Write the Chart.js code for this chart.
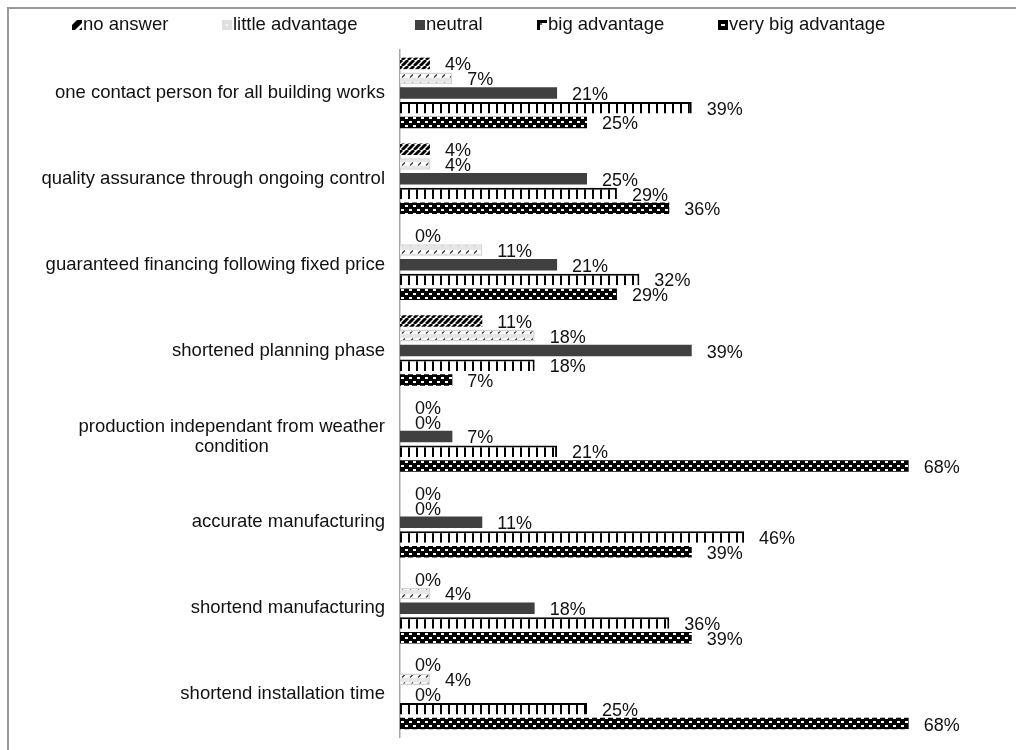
<!DOCTYPE html>
<html>
<head>
<meta charset="utf-8">
<title>Advantages of prefabrication</title>
<script src="https://cdn.jsdelivr.net/npm/chart.js@4.4.1/dist/chart.umd.min.js"></script>
<style>
  html, body { margin: 0; padding: 0; background: #fff; overflow: hidden; }
  #wrap { position: relative; width: 1016px; height: 750px; }
  #frame { position: absolute; left: 7px; top: 7px; width: 1100px; height: 800px; border: 2px solid #999; box-sizing: border-box; }
  #chart { position: absolute; left: 0; top: 0; }
</style>
</head>
<body>
<div id="wrap">
  <div id="frame"></div>
  <canvas id="chart" width="1016" height="750"></canvas>
</div>
<script>
// Survey: rated advantages, share of answers in percent

const categories = [
  'one contact person for all building works',
  'quality assurance through ongoing control',
  'guaranteed financing following fixed price',
  'shortened planning phase',
  ['production independant from weather', 'condition'],
  'accurate manufacturing',
  'shortend manufacturing',
  'shortend installation time',
];

const seriesNames = ['no answer', 'little advantage', 'neutral', 'big advantage', 'very big advantage'];

const noAnswer = [4, 4, 0, 11, 0, 0, 0, 0];
const littleAdvantage = [7, 4, 11, 18, 0, 0, 4, 4];
const neutral = [21, 25, 21, 39, 7, 11, 18, 0];
const bigAdvantage = [39, 29, 32, 18, 21, 46, 36, 25];
const veryBigAdvantage = [25, 36, 29, 7, 68, 39, 39, 68];

const FONT = '"Liberation Sans", Arial, sans-serif';
const TEXT_COLOR = '#111';
const LEGEND_X = [72, 222, 415, 537, 718];

Chart.defaults.font.family = FONT;

/**
 * Builds a repeating fill pattern from a small tile.
 * @param {number} w
 * @param {number} h
 * @param {function} paint
 */
function makePattern(w, h, paint) {
  const tile = document.createElement('canvas');
  tile.width = w;
  tile.height = h;
  const t = tile.getContext('2d');
  paint(t, w, h);
  return t.createPattern(tile, 'repeat');
}

const wideDiagonal = makePattern(6, 6, (t, w, h) => {
  t.fillStyle = '#fff';
  t.fillRect(0, 0, w, h);
  t.strokeStyle = '#000';
  t.lineWidth = 2.8;
  for (const k of [-6, 0, 6]) {
    t.beginPath();
    t.moveTo(k, h);
    t.lineTo(k + w, 0);
    t.stroke();
  }
});

const dashedDiagonal = makePattern(8, 8, (t, w, h) => {
  t.fillStyle = '#e6e6e6';
  t.fillRect(0, 0, w, h);
  t.fillStyle = '#fff';
  t.fillRect(0, 2, w, 4);
  t.strokeStyle = '#333';
  t.lineWidth = 1.3;
  t.beginPath();
  t.moveTo(2, 5.5);
  t.lineTo(5, 2.5);
  t.stroke();
});

const verticalTicks = makePattern(8, 8, (t, w, h) => {
  t.fillStyle = '#fff';
  t.fillRect(0, 0, w, h);
  t.fillStyle = '#000';
  t.fillRect(0, 0, 2, h);
});

const dottedBlack = makePattern(8, 8, (t, w, h) => {
  t.fillStyle = '#000';
  t.fillRect(0, 0, w, h);
  t.fillStyle = '#fff';
  t.fillRect(1, 1, 3, 2);
  t.fillRect(5, 5, 3, 2);
});

// small legend swatches, drawn like the spreadsheet's markers
const swatches = [
  (ctx, x, y) => {
    ctx.fillStyle = '#fff';
    ctx.fillRect(x, y, 10, 10);
    ctx.fillStyle = '#000';
    ctx.beginPath();
    ctx.moveTo(x, y + 10); ctx.lineTo(x, y + 5); ctx.lineTo(x + 5, y);
    ctx.lineTo(x + 10, y); ctx.lineTo(x + 10, y + 3); ctx.lineTo(x + 3, y + 10);
    ctx.closePath();
    ctx.fill();
    ctx.beginPath();
    ctx.moveTo(x + 7, y + 10); ctx.lineTo(x + 10, y + 7); ctx.lineTo(x + 10, y + 10);
    ctx.closePath();
    ctx.fill();
  },
  (ctx, x, y) => {
    ctx.fillStyle = '#e0e0e0';
    ctx.fillRect(x, y, 10, 10);
    ctx.fillStyle = '#fafafa';
    ctx.fillRect(x + 4, y + 4, 2, 2);
  },
  (ctx, x, y) => {
    ctx.fillStyle = '#404040';
    ctx.fillRect(x, y, 10, 10);
  },
  (ctx, x, y) => {
    ctx.fillStyle = '#000';
    ctx.fillRect(x, y, 10, 3);
    ctx.fillRect(x, y, 3, 10);
    ctx.fillStyle = '#666';
    ctx.fillRect(x + 3, y + 3, 2, 2);
  },
  (ctx, x, y) => {
    ctx.fillStyle = '#000';
    ctx.fillRect(x, y, 10, 10);
    ctx.fillStyle = '#fff';
    ctx.fillRect(x + 3, y + 4, 4, 2);
  },
];

const datasets = [
  { label: seriesNames[0], data: noAnswer, backgroundColor: wideDiagonal, borderWidth: 0 },
  { label: seriesNames[1], data: littleAdvantage, backgroundColor: dashedDiagonal, borderColor: '#d4d4d4', borderWidth: 1.5 },
  { label: seriesNames[2], data: neutral, backgroundColor: '#404040', borderWidth: 0 },
  { label: seriesNames[3], data: bigAdvantage, backgroundColor: verticalTicks, borderColor: '#000',
    borderWidth: { top: 2, right: 2, bottom: 0, left: 0 }, borderSkipped: 'start' },
  { label: seriesNames[4], data: veryBigAdvantage, backgroundColor: dottedBlack, borderWidth: 0 },
];

/** Draws the category names left of the axis, multi-line names centred in their block. */
const categoryLabels = {
  id: 'categoryLabels',
  afterDraw(chart) {
    const { ctx } = chart;
    const yScale = chart.scales.y;
    const lineH = 20;
    ctx.save();
    ctx.font = `18.5px ${FONT}`;
    ctx.fillStyle = TEXT_COLOR;
    ctx.textAlign = 'center';
    ctx.textBaseline = 'middle';
    chart.data.labels.forEach((label, i) => {
      const lines = Array.isArray(label) ? label : [label];
      const y = yScale.getPixelForTick(i);
      const blockW = Math.max(...lines.map(l => ctx.measureText(l).width));
      const cx = yScale.right - 15 - blockW / 2;
      lines.forEach((line, j) => {
        ctx.fillText(line, cx, y + (j - (lines.length - 1) / 2) * lineH);
      });
    });
    ctx.restore();
  },
};

/** Writes the percentage right of every bar end. */
const valueLabels = {
  id: 'valueLabels',
  afterDatasetsDraw(chart) {
    const { ctx } = chart;
    ctx.save();
    ctx.font = `18px ${FONT}`;
    ctx.fillStyle = TEXT_COLOR;
    ctx.textAlign = 'left';
    ctx.textBaseline = 'middle';
    chart.data.datasets.forEach((ds, di) => {
      chart.getDatasetMeta(di).data.forEach((bar, i) => {
        ctx.fillText(ds.data[i] + '%', bar.x + 15, bar.y + 2);
      });
    });
    ctx.restore();
  },
};

/** Legend row at the top with pattern swatches. */
const topLegend = {
  id: 'topLegend',
  afterDraw(chart) {
    const { ctx } = chart;
    const y = 25;
    ctx.save();
    ctx.font = `18.5px ${FONT}`;
    ctx.textAlign = 'left';
    ctx.textBaseline = 'middle';
    chart.data.datasets.forEach((ds, i) => {
      const x = LEGEND_X[i];
      swatches[i](ctx, x, y - 5);
      ctx.fillStyle = TEXT_COLOR;
      ctx.fillText(ds.label, x + 11, y);
    });
    ctx.restore();
  },
};

const chart = new Chart(document.getElementById('chart'), {
  type: 'bar',
  data: { labels: categories, datasets },
  options: {
    indexAxis: 'y',
    responsive: false,
    animation: false,
    layout: { padding: { top: 50, bottom: 13, right: 55, left: 0 } },
    datasets: { bar: { categoryPercentage: 0.86, barPercentage: 0.78 } },
    plugins: {
      legend: { display: false },
      tooltip: { enabled: false },
    },
    scales: {
      x: { display: false, min: 0, max: 75 },
      y: {
        grid: { display: false, drawTicks: false },
        border: { display: true, color: '#a6a6a6', width: 1.5 },
        ticks: { display: false },
        afterFit: (scale) => { scale.width = 400; },
      },
    },
  },
  plugins: [categoryLabels, valueLabels, topLegend],
});
</script>
</body>
</html>
